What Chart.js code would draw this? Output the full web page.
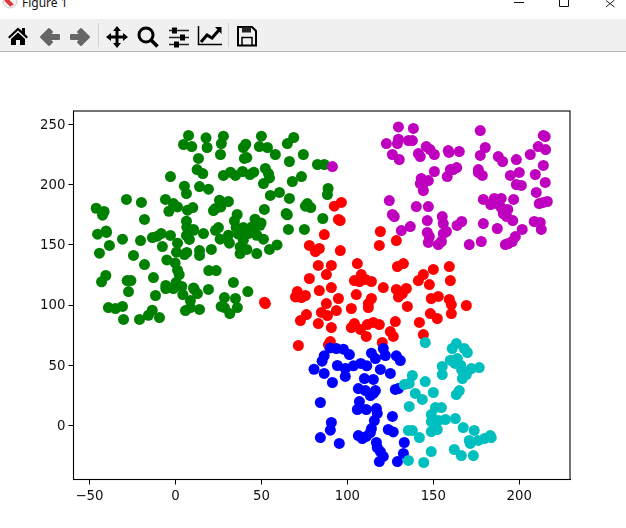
<!DOCTYPE html>
<html>
<head>
<meta charset="utf-8">
<title>Figure 1</title>
<script src="https://cdn.jsdelivr.net/npm/chart.js@4"></script>
<style>
  html, body { margin: 0; padding: 0; background: #fff; overflow: hidden; }
  #wrap { position: relative; width: 626px; height: 528px; overflow: hidden; }
  #titleIcon { position: absolute; left: 2px; top: -7px; }
  #title { position: absolute; left: 22px; top: -6px; font: 12px "Noto Sans", sans-serif; color: #111; }
  #winBtns { position: absolute; left: 480px; top: 0; }
  #toolbar { position: absolute; left: 0; top: 19px; width: 626px; height: 32px; background: #f0f0f0; border-bottom: 1px solid #b9b9b9; }
  #icons { position: absolute; left: 0; top: 0; }
  canvas { position: absolute; left: 0; top: 0; }
</style>
</head>
<body>
<div id="wrap">
  <svg id="titleIcon" width="16" height="16" viewBox="0 0 16 16">
    <circle cx="8" cy="8" r="7" fill="#f4f4f4" stroke="#ccc"/>
    <path d="M3 7 L9 13 M5 6 L11 12" stroke="#e23030" stroke-width="2"/>
  </svg>
  <div id="title">Figure 1</div>
  <svg id="winBtns" width="146" height="20">
    <path d="M34 2.5H44" stroke="#111" fill="none"/>
    <path d="M79.5 0V6.5H88.5V0" stroke="#111" fill="none"/>
    <path d="M126 0.5L134.500 7M134.500 0L126 7" stroke="#222" fill="none"/>
  </svg>
  <div id="toolbar">
    <svg id="icons" width="300" height="32">
      <!-- home -->
      <path d="M8 18 L18 8.500 L22 12 V9 H25 V15 L28 18 L26.500 19.500 L18 11.500 L9.500 19.500 Z M11 20 L18 13.500 L25 20 V26 H20 V21 H16 V26 H11 Z" fill="#000"/>
      <!-- back / forward -->
      <path d="M41 18 L49 10 L52 13 L48.500 16 H59 V20 H48.500 L52 23 L49 26 Z" fill="#666" stroke="#666" stroke-width="2" stroke-linejoin="round"/>
      <path d="M89 18 L81 10 L78 13 L81.500 16 H71 V20 H81.500 L78 23 L81 26 Z" fill="#666" stroke="#666" stroke-width="2" stroke-linejoin="round"/>
      <path d="M98.500 4 V28" stroke="#d4d4d4"/>
      <!-- pan -->
      <path d="M117 7 L121 12 H118.500 V16.500 H123 V14 L128 18 L123 22 V19.500 H118.500 V24 H121 L117 29 L113 24 H115.500 V19.500 H111 V22 L106 18 L111 14 V16.500 H115.500 V12 H113 Z" fill="#000"/>
      <!-- zoom -->
      <circle cx="146" cy="16" r="7" fill="none" stroke="#000" stroke-width="3"/>
      <path d="M151 21 L157.500 27.500" stroke="#000" stroke-width="3.500"/>
      <!-- sliders -->
      <path d="M169 11.500 H189 M169 18.500 H189 M169 25.500 H189" stroke="#222" stroke-width="1.500"/>
      <rect x="172" y="8.500" width="5" height="6" fill="#000"/>
      <rect x="180" y="15.500" width="5" height="6" fill="#000"/>
      <rect x="174" y="22.500" width="5" height="6" fill="#000"/>
      <!-- lines -->
      <path d="M198.500 7 V25.500 H222" fill="none" stroke="#000" stroke-width="1.500"/>
      <path d="M201 23 L207 16 L212 19 L219 11" fill="none" stroke="#000" stroke-width="3"/>
      <path d="M215 8 H221.500 V15 Z" fill="#000"/>
      <path d="M228.500 4 V28" stroke="#d4d4d4"/>
      <!-- save -->
      <path d="M238 8 H252 L256 12 V26.500 H238 Z" fill="none" stroke="#000" stroke-width="2"/>
      <rect x="242" y="8" width="9" height="5.500" fill="#222"/>
      <path d="M242 26 V18.500 H252 V26" fill="none" stroke="#000" stroke-width="1.500"/>
    </svg>
  </div>
  <canvas id="scatterChart" width="626" height="528"></canvas>
</div>
<script>
// values, [x, y]
const xTicks = [-50, 0, 50, 100, 150, 200];
const yTicks = [0, 50, 100, 150, 200, 250];

const redPoints = [
  [52.3,101.2],[51.8,102.3],[92.4,182],[96.5,185.1],[94.8,171],[95.8,170.1],[86.6,158.5],[77.9,149.4],[83.7,146.9],[81.4,144.4],
  [95.9,145.2],[119.2,161],[118.6,149.4],[128.5,153.5],[105.8,134.4],[83.1,132.8],[90.7,132.8],[87.8,125.3],[77.9,122],[129.1,131.9],
  [132.6,134.4],[159.3,131.9],[150,129.5],[144.2,125.3],[141.3,120.3],[159.9,120.3],[147.7,117],[108.1,125.3],[104.1,120.3],[107,119.5],
  [110.5,121.2],[114,119.5],[120.9,114.5],[90.7,114.5],[83.7,112],[70.9,111.2],[69.8,106.7],[73.3,106.2],[75.6,107.9],[105.2,108.7],
  [128.5,112.9],[134.3,113.7],[129.7,106.7],[132,109.5],[94.8,105.4],[87.8,101.2],[114,105.4],[112.2,101.2],[112.2,97.9],[102.3,97.1],
  [93.6,95.4],[84.9,93.8],[88.4,91.3],[134.9,98.8],[148.8,105.4],[152.9,107.1],[159.3,104.6],[160.5,100.4],[169.2,99.6],[160.5,92.9],
  [148.3,92.9],[152.3,88.8],[76.2,92.1],[72.7,87.1],[83.1,84.6],[90.7,81.3],[102.3,81.3],[104.1,84.6],[107.6,79.7],[111.6,83.8],
  [115.1,85.5],[118.6,83.8],[127.9,86.3],[111,73.9],[125,78],[126.7,73.9],[141.9,85.5],[144.2,75.5],[71.5,66.4],[90.1,69.7],
  [89,67.2],[120.3,68.9]
];

const bluePoints = [
  [89.9,64.4],[93.6,63.9],[97.7,63.3],[101.2,58.9],[86.5,57.8],[85.3,53.4],[80.6,46.7],[86.5,43.2],[91.3,35.7],[94.2,49.8],
  [98.8,40.7],[98.8,47.3],[103.5,49.5],[107.8,51.5],[111.3,49.5],[114,60],[116.3,55.6],[120.9,63.9],[122.1,58.1],[128.5,57.8],
  [130.8,53.9],[119.2,46.5],[125,43.2],[109.9,39],[115.1,38.2],[106.4,30.7],[110.5,29],[116.3,29],[113.4,24.9],[115.1,26.6],
  [127.9,29.9],[129.7,30.7],[107,19.9],[84.3,19.1],[105.8,13.3],[111,13.3],[116.9,14.1],[117.4,10],[126.2,7.5],[115.7,4.1],
  [114,-2.5],[90.7,2.5],[90.1,-3.9],[123.8,-3.3],[126.7,-5.3],[84.3,-10],[95.3,-14.9],[106.4,-8.3],[108.7,-10.8],[111,-9.1],
  [113.4,-5.8],[116.9,-14.1],[117.4,-18.3],[119.2,-21.6],[120.9,-25.7],[118.6,-29.9],[133.1,-14.1],[132.6,-23.2],[129.1,-29.9]
];

const cyanPoints = [
  [145.3,68.9],[135.5,-29],[144.4,-30.7],[135.5,-4.1],[137.8,-4.1],[141.9,-10],[136,15.8],[139.5,26.6],[143.6,21.6],[133.1,34],
  [136,34.9],[137.8,41.5],[145.3,36.5],[163.4,68],[161,63.9],[168,63.9],[169.8,60.6],[159.9,54.2],[164,55.6],[162.6,51.5],
  [165.9,50],[166.5,45.9],[155.2,49],[155.2,42.3],[172.1,47.3],[176.7,48.1],[169.2,42.3],[166.9,39],[165.1,29],[163.4,25.7],
  [150,27.4],[151.2,14.9],[154.7,14.9],[148.8,9.1],[148.8,3.3],[152.9,4.1],[157,5],[162.8,5.8],[152.3,-3.3],[148.8,-5],
  [167.4,-1.7],[173.8,-4.1],[170.9,-12.4],[171.5,-14.9],[176.2,-12.4],[179.7,-10.8],[183.1,-8.3],[183.7,-10],[162.2,-19.9],[166.3,-24.9],
  [173.3,-24.9],[148.8,-21.6]
];

const greenPoints = [
  [7.6,240.7],[17.8,238.7],[4.7,233.2],[9.5,231.5],[18.4,230.7],[13.4,221.6],[12.6,212.4],[15.9,209.1],[-2.9,206.6],[5.2,198.6],
  [6.4,192.5],[14,198.3],[19.2,196.1],[-28.5,187.6],[-19.8,185.1],[-5.8,187.6],[-1.2,184.2],[1.2,181.4],[-3.8,177.8],[7,178.7],
  [10.1,180.9],[-46.1,180.3],[-41.5,177.6],[-42.4,174.5],[-18,171],[6.4,169.5],[6.6,164.6],[10.5,162.7],[-40.3,161.5],
  [27.9,240.1],[26.7,234],[26.2,224.9],[39.5,230.7],[40.9,233.4],[50,240.1],[48.8,231.5],[53.5,230.7],[58.1,224.9],[65.1,234],
  [68.8,239],[74.4,224.9],[66.3,219.1],[40.1,221.6],[41.5,222.4],[82.6,216.6],[86.6,216.6],[52.3,213.3],[27.9,207.5],[32,210.2],
  [34.9,207.5],[39,210.8],[43.3,208.3],[45.6,210.2],[54.1,209.1],[54.7,205.5],[51.2,200.8],[68,202.5],[73.3,206.6],[88.8,196.7],
  [88.4,191.7],[55.2,190.9],[60.5,193.4],[66.3,188.4],[25.6,187],[30.8,185.9],[26.4,181.4],[23.3,180.1],[22.1,178.4],[51.7,179.3],
  [76.7,184.2],[78.7,180.9],[75.6,182],[64.4,175.9],[65.1,174.8],[85.7,171.8],[35.9,175.1],[34.3,169.8],[46.3,171.2],[49.8,168.1],
  [47.3,166.2],[25,164.3],[35.3,164.3],[39.5,164.3],[65.7,162.7],[75,162.7],
  [-45.3,158.8],[-40.1,160.2],[-30.8,154.6],[-38.4,149.4],[-44.2,143],[-20.3,153.5],[-24.4,141.1],[-18,133.6],[-13.4,156],[-10.5,157.1],
  [-8.3,159.3],[-2.9,157.7],[-7.6,148.5],[1.2,151.3],[0.6,143.8],[5.2,141.9],[6.6,143.6],[14,145.2],[14,141.1],[20.9,146.1],
  [6.4,157.7],[8.1,154.4],[10.5,162],[16.3,159.3],[23.3,162],[26,154.6],[30.8,157.9],[31.4,151.3],[39.5,162],[36.6,158.8],
  [39.5,153.8],[44.4,164.8],[49.2,166.2],[47.3,157.9],[51.2,154.6],[42.4,159.3],[37.6,148.2],[41.5,146.1],[37.6,142.7],[47.3,142.7],
  [54.7,146.1],[59.1,149.9],[-5,137.4],[-0.2,134.9],[1.2,128.9],[2.2,125.3],[19.4,128.6],[23.7,128.6],[-40.5,124.5],[-43,119.2],
  [-28.1,120.3],[-25.9,120.3],[-12.8,122.8],[-27.3,111.2],[33.7,118.7],[42.1,111.2],[0.4,118.7],[-5.6,116.2],[-5.6,113.7],[-1.2,113.7],
  [3.7,115.4],[4.3,108.7],[10.5,114.2],[11,112.9],[12.8,109.5],[19.2,112.9],[-11.6,107.9],[28.5,106.2],[34.9,105.4],[8.7,103.7],
  [26.6,98.8],[28.5,97.9],[36,97.9],[31.6,92.9],[-39,97.9],[-34.9,97.1],[-30.8,98.8],[-13.5,95.7],[-15.7,91.5],[-20.9,88],
  [-30.2,88],[-9.3,89.6],[8.7,97.9],[5.8,95.4],[14,96.3]
];

const magentaPoints = [
  [91.3,214.9],[129.7,247.8],[138.4,246.5],[177.3,244.8],[129.7,237.6],[129.1,234],[135.5,236.5],[137.8,236.5],[122.7,234],[126.2,224.9],
  [130.2,220.7],[141.3,225.7],[142.4,223.2],[145.9,231.5],[148.1,229],[150.6,224.9],[158.7,228.2],[159.1,226.6],[165.1,227.4],[180.2,230.7],
  [177.3,224.1],[187.8,223.2],[190.3,219.1],[198.3,220.7],[206.4,224.9],[211,231.5],[215.3,229],[214,240.7],[215.1,239.8],[214,215.8],
  [209.3,208.3],[215.1,201.7],[209.9,193.4],[211.6,184.2],[214,185.1],[216.3,185.9],[200,210],[194.8,207.5],[198.3,200],[201.2,199.2],
  [176.2,212.4],[176.2,210],[178.5,207.5],[150.6,210.8],[159.9,212.4],[161.6,212.4],[163.6,214.1],[158.1,206.6],[143,205],[147.1,203.3],
  [142.4,200.8],[144.2,195],[144.2,200.8],[124.4,186.7],[140.1,181.7],[147.1,181.7],[126.2,175.1],[127.3,173.4],[146.5,170.1],[155.2,173.4],
  [155.8,167.6],[157.6,161],[155.8,159.3],[163.8,166],[166.5,169.3],[136.6,165.1],[131.4,161.8],[146.5,160.2],[147.7,156.8],[147.1,151.9],
  [152.9,150.2],[154.7,152.7],[170.9,150.2],[177.9,152.7],[179.1,167.6],[187.2,163.5],[179.1,187.6],[183.4,183.4],[185.5,188.4],[189.5,188.4],
  [187.2,184.2],[189.5,180.9],[193.3,179.3],[196.7,187.6],[190.7,175.9],[192.7,173.4],[196.2,170.1],[201.7,162.7],[197.7,156.8],[195.9,152.7],
  [193.6,151],[191.9,150.2],[208.7,169.3],[212.2,168.5],[212.8,162.7]
];

function toXY(points) {
  return points.map(p => ({ x: p[0], y: p[1] }));
}

// lower order is painted on top
function series(points, color, order) {
  return {
    data: toXY(points),
    backgroundColor: color,
    pointRadius: 5.5,
    pointBorderWidth: 0,
    order: order
  };
}

// closes the box on the top and right like the matplotlib spines,
// and drops the y labels a pixel so they sit level with their ticks
const frame = {
  id: 'frame',
  beforeDraw(chart) {
    chart.scales.y.getLabelItems(chart.chartArea).forEach(item => {
      item.options.translation[1] += 1;
    });
  },
  afterDraw(chart) {
    const a = chart.chartArea, c = chart.ctx;
    c.save();
    c.strokeStyle = '#000';
    c.lineWidth = 1.1;
    c.strokeRect(a.left, a.top, a.right - a.left, a.bottom - a.top);
    c.restore();
  }
};

const tickFont = { family: 'DejaVu Sans', size: 13.3 };
const minus = v => String(v).replace('-', '\u2212');

new Chart(document.getElementById('scatterChart'), {
  type: 'scatter',
  data: {
    datasets: [
      series(redPoints, '#ff0000', 5),
      series(bluePoints, '#0000ff', 4),
      series(cyanPoints, '#00bfbf', 3),
      series(greenPoints, '#008000', 2),
      series(magentaPoints, '#bf00bf', 1)
    ]
  },
  plugins: [frame],
  options: {
    responsive: false,
    animation: false,
    events: [],
    layout: { padding: { left: 0, top: 111, right: 56, bottom: 0 } },
    plugins: { legend: { display: false }, tooltip: { enabled: false } },
    scales: {
      x: {
        min: -59.3,
        max: 229.5,
        afterBuildTicks: axis => { axis.ticks = xTicks.map(v => ({ value: v })); },
        afterFit: axis => { axis.height = 48.5; },
        grid: { drawOnChartArea: false, tickLength: 5, tickColor: '#000', tickWidth: 1 },
        border: { color: '#000', width: 1 },
        ticks: { color: '#111', font: tickFont, padding: 4, maxRotation: 0, callback: minus }
      },
      y: {
        min: -44.8,
        max: 261,
        afterBuildTicks: axis => { axis.ticks = yTicks.map(v => ({ value: v })); },
        afterFit: axis => { axis.width = 73.5; },
        grid: { drawOnChartArea: false, tickLength: 5, tickColor: '#000', tickWidth: 1 },
        border: { color: '#000', width: 1 },
        ticks: { color: '#111', font: tickFont, padding: 3, callback: minus }
      }
    }
  }
});
</script>
</body>
</html>
